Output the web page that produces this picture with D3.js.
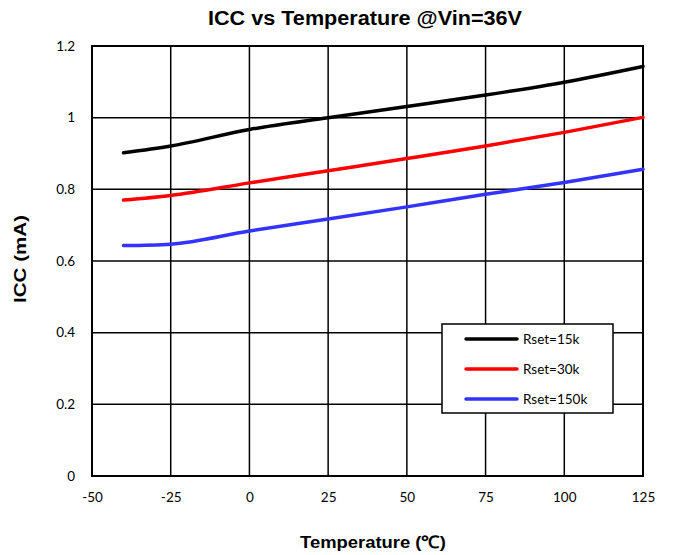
<!DOCTYPE html>
<html><head><meta charset="utf-8">
<script src="https://cdn.jsdelivr.net/npm/d3@7"></script>
<style>body{margin:0;background:#fff}svg{display:block}</style>
</head><body>
<svg id="c" width="675" height="555"></svg>
<script>
const temps = [-40, -25, 0, 25, 50, 75, 100, 125];
const rset15k = [0.902, 0.921, 0.967, 1.0, 1.031, 1.063, 1.099, 1.143];
const rset30k = [0.770, 0.783, 0.818, 0.852, 0.886, 0.921, 0.959, 1.001];
const rset150k = [0.643, 0.647, 0.684, 0.717, 0.751, 0.786, 0.819, 0.856];
const seriesNames = ["Rset=15k", "Rset=30k", "Rset=150k"];
const seriesColors = ["#000000", "#ff0000", "#3333ff"];
const xTicks = [-50, -25, 0, 25, 50, 75, 100, 125];
const yTicks = [0, 0.2, 0.4, 0.6, 0.8, 1, 1.2];

const svg = d3.select("#c");
const L = 92, R = 643, T = 46, B = 476;
const x = d3.scaleLinear().domain([-50, 125]).range([L, R]);
const y = d3.scaleLinear().domain([0, 1.2]).range([B, T]);
const tickFont = "Lato, 'Liberation Sans', sans-serif";
const titleFont = "'Liberation Sans', Arial, sans-serif";

// grid
svg.append("g").selectAll("line").data(xTicks).join("line")
  .attr("x1", d => x(d)).attr("x2", d => x(d)).attr("y1", T).attr("y2", B)
  .attr("stroke", "#000").attr("stroke-width", 1.5);
svg.append("g").selectAll("line").data(yTicks).join("line")
  .attr("x1", L).attr("x2", R).attr("y1", d => y(d)).attr("y2", d => y(d))
  .attr("stroke", "#000").attr("stroke-width", 1.5);
svg.append("rect").attr("x", L).attr("y", T).attr("width", R - L).attr("height", B - T)
  .attr("fill", "none").attr("stroke", "#000").attr("stroke-width", 2);

// axes labels
const xa = d3.axisBottom(x).tickValues(xTicks).tickSize(0).tickPadding(16).tickFormat(d => String(d));
const gx = svg.append("g").attr("transform", `translate(0,${B})`).call(xa);
gx.select(".domain").remove();
gx.selectAll("text").attr("font-family", tickFont).attr("font-size", 13.5).attr("fill", "#000");
const ya = d3.axisLeft(y).tickValues(yTicks).tickSize(0).tickPadding(17).tickFormat(d => String(d));
const gy = svg.append("g").attr("transform", `translate(${L},0)`).call(ya);
gy.select(".domain").remove();
gy.selectAll("text").attr("font-family", tickFont).attr("font-size", 13.5).attr("fill", "#000");

// series
const all = [rset15k, rset30k, rset150k];
const line = d3.line().x((d, i) => x(temps[i])).y(d => y(d)).curve(d3.curveMonotoneX);
all.forEach((s, k) => {
  svg.append("path").datum(s).attr("d", line).attr("fill", "none")
    .attr("stroke", seriesColors[k]).attr("stroke-width", 3.5).attr("stroke-linecap", "round");
});

// legend
const lg = svg.append("g");
lg.append("rect").attr("x", 442).attr("y", 324).attr("width", 171).attr("height", 89)
  .attr("fill", "#fff").attr("stroke", "#000").attr("stroke-width", 1.5);
seriesNames.forEach((n, k) => {
  const yy = 339 + k * 30;
  lg.append("line").attr("x1", 466).attr("x2", 517).attr("y1", yy).attr("y2", yy)
    .attr("stroke", seriesColors[k]).attr("stroke-width", 3.5).attr("stroke-linecap", "round");
  lg.append("text").attr("x", 523).attr("y", yy + 4.5).text(n)
    .attr("font-family", tickFont).attr("font-size", 13.5).attr("fill", "#000");
});

// titles
svg.append("text").attr("x", 365).attr("y", 25).attr("text-anchor", "middle")
  .attr("font-family", titleFont).attr("font-weight", "bold").attr("font-size", 19.5)
  .attr("textLength", 314).attr("lengthAdjust", "spacingAndGlyphs")
  .text("ICC vs Temperature @Vin=36V");
svg.append("text").attr("x", 373).attr("y", 548).attr("text-anchor", "middle")
  .attr("font-family", titleFont).attr("font-weight", "bold").attr("font-size", 17)
  .attr("textLength", 146).attr("lengthAdjust", "spacingAndGlyphs")
  .text("Temperature (℃)");
svg.append("text").attr("transform", "translate(26,259) rotate(-90)").attr("text-anchor", "middle")
  .attr("font-family", titleFont).attr("font-weight", "bold").attr("font-size", 16)
  .attr("textLength", 88).attr("lengthAdjust", "spacingAndGlyphs")
  .text("ICC (mA)");
</script>
</body></html>
